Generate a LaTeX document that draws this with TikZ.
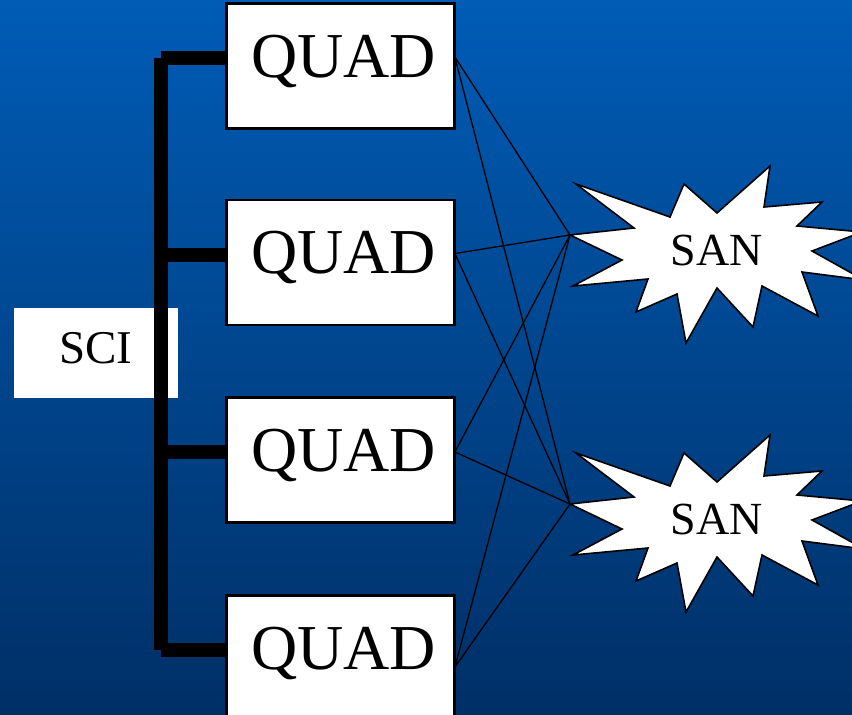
\documentclass[tikz,border=0pt]{standalone}
\usepackage{fontspec}
\setmainfont{Liberation Serif}
\usetikzlibrary{calc,positioning}
\definecolor{bgtop}{RGB}{0,92,182}
\definecolor{bgbot}{RGB}{0,47,102}

\begin{document}
\begin{tikzpicture}[x=1pt,y=-1pt,
	quad/.style={draw,line width=1.8pt,fill=white,minimum width=227pt,
		minimum height=124pt,inner sep=0pt,font=\fontsize{64}{64}\selectfont},
	scibox/.style={fill=white,minimum width=164pt,minimum height=90pt,
		inner sep=0pt,text depth=10pt,font=\fontsize{47}{47}\selectfont},
	bus/.style={line width=13.5pt},
	wire/.style={line width=1.3pt},
	burst/.style={draw,line width=1.6pt,fill=white,line join=miter}]
	\useasboundingbox (0,0) rectangle (852,715);
	\shade[top color=bgtop,bottom color=bgbot] (0,0) rectangle (852,715);
	% sci box and bus
	\node[scibox] (sci) at (96,353) {SCI};
	\coordinate (b1) at (161,58);
	\coordinate (b2) at (161,255);
	\coordinate (b3) at (161,452);
	\coordinate (b4) at (161,650);
	\node[quad,text depth=20pt] (q1) at (340.5,66) {\hspace*{6pt}QUAD};
	\node[quad,text depth=20pt] (q2) at (340.5,262.5) {\hspace*{6pt}QUAD};
	\node[quad,text depth=20pt] (q3) at (340.5,460) {\hspace*{6pt}QUAD};
	\node[quad,text depth=20pt] (q4) at (340.5,658) {\hspace*{6pt}QUAD};
	\draw[bus] (b1) -- (b4);
	\foreach \i in {1,...,4}
		\draw[bus] (b\i) -- (b\i -| q\i.west);
	% redraw boxes over the bus ends
	\foreach \i in {1,...,4}
		\draw[line width=1.8pt] (q\i.north west) rectangle (q\i.south east);
	% san bursts
	\foreach \n/\dy in {1/0,2/269}{
		\begin{scope}[yshift=-\dy pt]
		\draw[burst] (576,184) -- (670,217) -- (684,184) -- (717,213)
			-- (770,166) -- (764,207) -- (822,202) -- (797,226)
			-- (862,232) -- (812,251) -- (864,280) -- (802,272)
			-- (818,316) -- (762,286) -- (753,327) -- (717,288)
			-- (686,343) -- (677,294) -- (636,312) -- (648,279)
			-- (573,286) -- (622,260) -- (570,235) -- (634,228) -- cycle;
		\coordinate (s\n) at (570,235);
		\node[font=\fontsize{46}{46}\selectfont] (san\n) at (717,250) {SAN};
		\end{scope}
	}
	% links quad -> san
	\coordinate (a1) at ($(q1.east)+(0,-9)$);
	\coordinate (a2) at ($(q2.east)+(0,-9)$);
	\coordinate (a3) at ($(q3.east)+(0,-8)$);
	\coordinate (a4) at ($(q4.east)+(0,9)$);
	\foreach \i in {1,...,4}{
		\draw[wire] (a\i) -- (s1);
		\draw[wire] (a\i) -- (s2);
	}
\end{tikzpicture}
\end{document}
